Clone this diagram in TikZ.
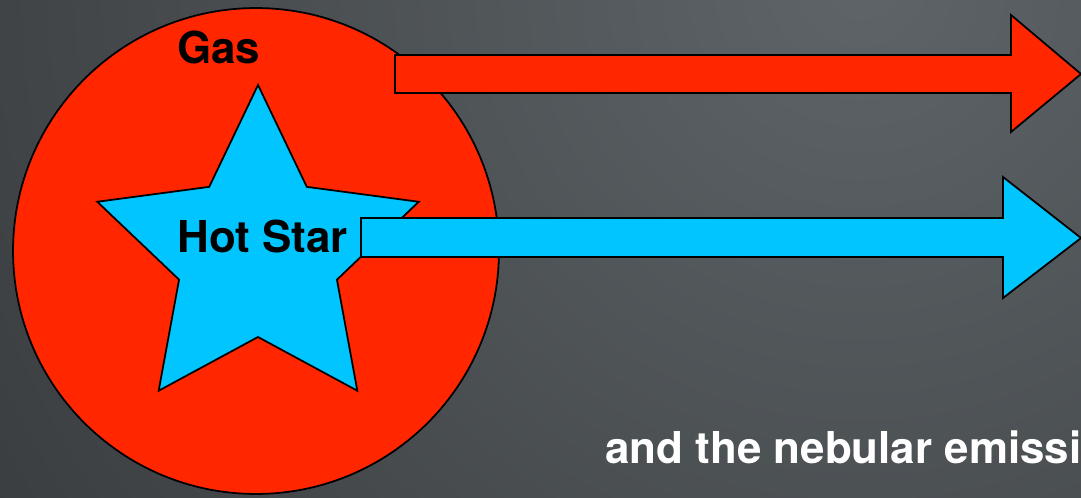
\documentclass[tikz,border=0pt]{standalone}
\usepackage{fontspec}
\setmainfont{TeX Gyre Heros}
\usetikzlibrary{calc}
\definecolor{gasred}{RGB}{255,38,0}
\definecolor{starblue}{RGB}{0,197,255}
\definecolor{bglight}{RGB}{94,100,104}
\definecolor{bgdark}{RGB}{24,25,26}

\begin{document}
\begin{tikzpicture}[x=0.02cm,y=-0.02cm,line join=miter,
  outline/.style={draw=black,line width=1pt},
  lbl/.style={anchor=base west,inner sep=0pt,font=\fontsize{25}{30}\selectfont\bfseries}]
  \useasboundingbox (0,0) rectangle (1081,497);
  \begin{scope}
    \clip (0,0) rectangle (1081,497);
    \shade[inner color=bglight,outer color=bgdark] (860,-20) circle (40cm);
  \end{scope}
  \coordinate (gc) at (256,251); \coordinate (sc) at (258,254);
  % gas cloud and star
  \draw[outline,fill=gasred] (gc) circle (4.86cm);
  \draw[outline,fill=starblue] ($(sc)+(-90:169)$)
    \foreach \k [evaluate=\k as \r using {mod(\k,2)==0 ? 169 : 83}] in {1,...,9} { -- ($(sc)+(-90+36*\k:\r)$) } -- cycle;
  \node[lbl] (gas) at (177,63.3) {Gas};
  % outgoing light
  \draw[outline,fill=gasred] (395,55) -- (1011,55) -- (1011,15) -- (1081,74) -- (1011,132) -- (1011,93) -- (395,93) -- cycle;
  \draw[outline,fill=starblue] (361,218) -- (1003,218) -- (1003,177) -- (1081,238) -- (1003,298) -- (1003,257) -- (361,257) -- cycle;
  \node[lbl] (hot) at (177,252.5) {Hot Star};
  \node[lbl,text=white] (neb) at (605,463.3) {and the nebular emissi};
\end{tikzpicture}
\end{document}
